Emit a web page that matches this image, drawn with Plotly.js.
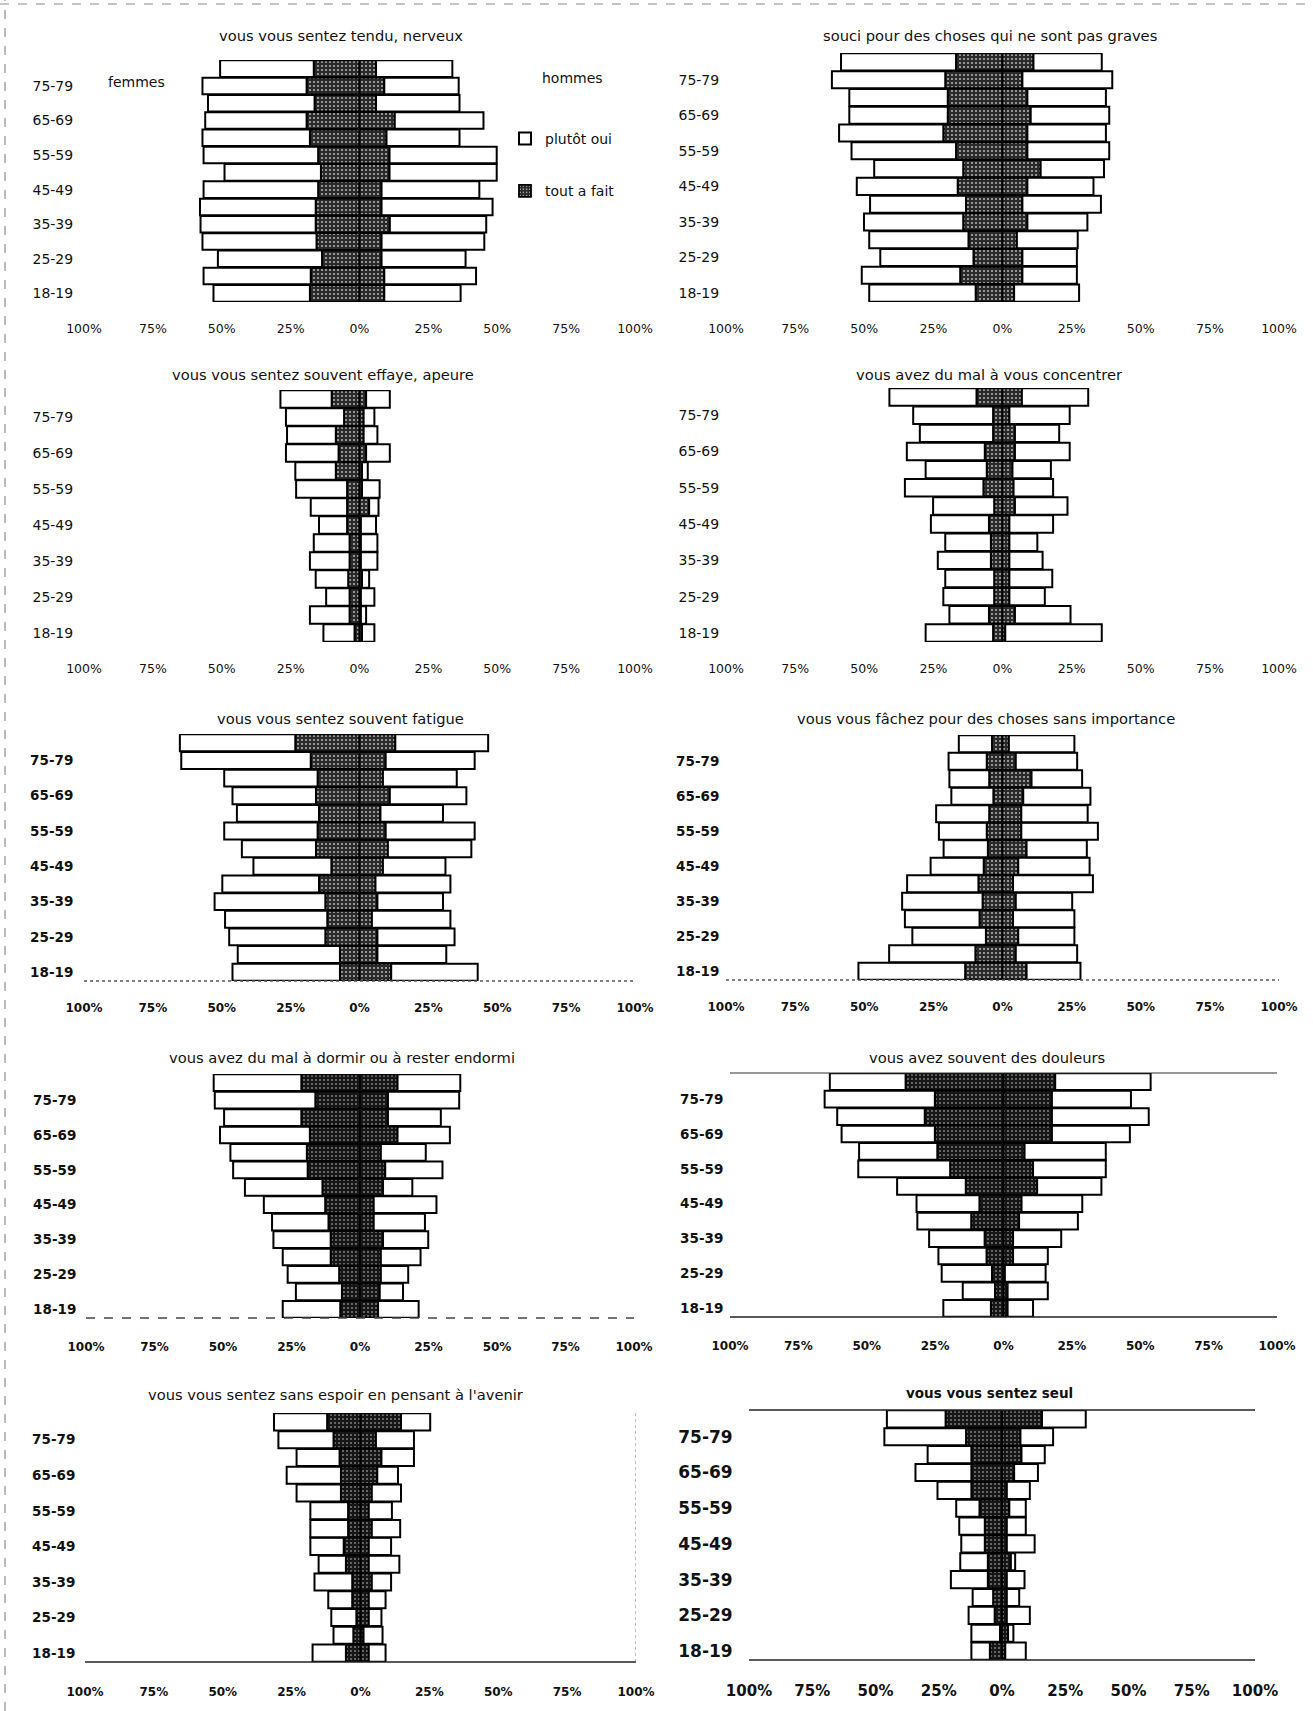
<!DOCTYPE html>
<html>
<head>
<meta charset="utf-8">
<script src="https://cdn.plot.ly/plotly-3.0.1.min.js"></script>
<style>
html,body{margin:0;padding:0;background:#fff;}
#chart{width:1313px;height:1711px;}
</style>
</head>
<body>
<div id="chart"></div>
<script>
// ---------- categories & labels ----------
const ageGroups = ['18-19','20-24','25-29','30-34','35-39','40-44','45-49','50-54','55-59','60-64','65-69','70-74','75-79','80 et +'];
const ageTickLabels = ['18-19','25-29','35-39','45-49','55-59','65-69','75-79'];
const pctTickVals = [-100,-75,-50,-25,0,25,50,75,100];
const pctTickText = ['100%','75%','50%','25%','0%','25%','50%','75%','100%'];
const seriesNames = {plutot:'plutôt oui', tout:'tout a fait'};
const sexLabels = {f:'femmes', h:'hommes'};

// ---------- data (% of respondents, age groups 18-19 -> 80 et +) ----------
// 1. tendu, nerveux
const tendu_femmes_tout   = [18,17.7,13.6,15.6,15.9,15.9,15,14,15,18,19.2,16.3,19.2,16.6];
const tendu_femmes_plutot = [35,38.9,37.8,41.4,41.8,42,41.6,35,41.6,39,36.8,38.7,37.8,34];
const tendu_hommes_tout   = [9,9,8,8,11,8,8,10.9,10.9,9.8,12.8,6,9,6];
const tendu_hommes_plutot = [27.7,33.3,30.5,37.3,35,40.3,35.5,38.9,38.9,26.5,32.2,30.3,27,27.7];
// 2. souci pour des choses qui ne sont pas graves
const souci_femmes_tout   = [9.7,15.3,10.5,12.3,14.2,13.2,16.2,14.2,16.8,21.4,19.8,19.8,20.7,16.8];
const souci_femmes_plutot = [38.5,35.6,33.7,35.9,35.9,34.7,36.5,32.2,37.8,37.7,35.6,35.6,41,41.6];
const souci_hommes_tout   = [4.2,7.2,7.2,5.2,9,7.2,9,13.8,9,9,10.2,9,7.2,11.2];
const souci_hommes_plutot = [23.5,19.7,19.7,22,21.7,28.4,23.9,22.9,29.6,28.4,28.4,28.4,32.5,24.7];
// 3. effrayé, apeuré
const effraye_femmes_tout   = [1.8,3.6,3.6,4.1,3.6,3.6,4.5,4.5,4.5,8.6,7.6,8.6,5.6,10.1];
const effraye_femmes_plutot = [11.3,14.4,8.5,11.8,14.4,13,10.2,13.2,18.5,14.7,19.1,17.7,21.1,18.6];
const effraye_hommes_tout   = [0.9,0.5,0.5,0.9,0.5,0.5,0.5,3.5,0.9,0.9,2.4,1.5,1.5,2.4];
const effraye_hommes_plutot = [4.5,1.9,4.9,2.6,6,6,5.5,3.4,6.4,2.1,8.6,5,3.9,8.6];
// 4. mal à vous concentrer
const concentrer_femmes_tout   = [3.4,4.9,3,3,4.2,4.2,4.9,3,6.9,5.7,6.4,3.4,3.4,9.4];
const concentrer_femmes_plutot = [24.4,14.3,18.4,17.7,19.2,16.5,21,22.1,28.4,22.1,28.2,26.5,28.9,31.5];
const concentrer_hommes_tout   = [1,4.5,2.5,2.5,2.5,2.5,2.5,4.5,4,3.6,4.5,4.5,2.5,7];
const concentrer_hommes_plutot = [34.9,20.1,12.8,15.5,12,10.1,15.8,19,14.3,13.9,19.8,16,21.8,24];
// 5. souvent fatigué
const fatigue_femmes_tout   = [7.1,7.1,12.4,11.7,12.4,14.7,10.2,15.8,15.2,14.7,15.8,15.2,17.7,23.3];
const fatigue_femmes_plutot = [39,37.1,34.9,37.1,40.2,35.1,28.3,26.9,33.9,29.8,30.3,33.9,47,41.9];
const fatigue_hommes_tout   = [11.5,6.5,6.5,4.5,6.5,5.8,8.5,10.3,9.5,7.6,11,8.5,9.5,13];
const fatigue_hommes_plutot = [31.4,25,28,28.5,23.8,27.2,22.7,30.3,32.3,22.7,27.8,26.8,32.3,33.7];
// 6. fâchez pour des choses sans importance
const fachez_femmes_tout   = [13.5,9.8,6,8.3,7.2,8.7,6.8,5.3,5.7,4.8,3.3,4.8,5.7,3.8];
const fachez_femmes_plutot = [38.6,31.2,26.6,27,29.1,25.8,19.2,16,17.3,19.2,15.2,14.4,13.8,12];
const fachez_hommes_tout   = [8.7,4.8,5.7,3.8,4.8,3.8,5.7,8.7,6.8,6.8,7.5,10.5,4.8,2.3];
const fachez_hommes_plutot = [19.5,22.2,20.3,22.2,20.4,28.9,25.8,21.8,27.7,24,24.3,18.3,22.2,23.7];
// 7. mal à dormir
const dormir_femmes_tout   = [7.2,6.6,7.6,10.7,10.7,11.5,12.7,13.7,19.1,19.4,18.3,21.4,16.3,21.4];
const dormir_femmes_plutot = [21,16.8,18.8,17.5,20.9,20.6,22.4,28.3,27.2,27.9,32.8,28.2,36.7,32];
const dormir_hommes_tout   = [6.6,7.2,7.6,7.6,8.4,5,5,8.4,9.2,7.6,13.7,10.2,10.2,13.7];
const dormir_hommes_plutot = [14.8,8.5,10,14.5,16.5,18.7,22.9,10.7,20.9,16.4,19.1,19.3,26,22.9];
// 8. souvent des douleurs
const douleurs_femmes_tout   = [4.6,3.1,4.2,6.2,6.9,11.8,8.8,13.8,19.5,24.2,25.1,28.8,25.1,35.8];
const douleurs_femmes_plutot = [17.4,11.8,18.4,17.6,20.3,19.7,23,25.1,33.6,28.6,34.1,32,40.3,27.7];
const douleurs_hommes_tout   = [1.5,1.5,0.5,3.5,3.5,5.7,6.6,12.3,10.8,7.7,17.7,17.7,17.7,18.9];
const douleurs_hommes_plutot = [9.3,14.7,14.9,12.7,17.6,21.5,22.2,23.5,26.6,29.7,28.5,35.4,28.9,34.9];
// 9. sans espoir
const espoir_femmes_tout   = [5.3,2.6,1.5,3,3,5.3,6.1,4.5,4.5,7.1,7.1,7.6,9.8,12.1];
const espoir_femmes_plutot = [12.1,7.2,9.1,8.7,13.7,9.9,12.1,13.7,13.7,16.1,19.7,15.6,20,19.3];
const espoir_hommes_tout   = [3,1.1,3,3,4.1,3,3,4.1,3,4.1,6.1,7.6,5.6,14.7];
const espoir_hommes_plutot = [6.1,6.9,4.6,6.1,7,11.1,8.1,10.3,8.4,10.6,7.5,11.8,13.8,10.6];
// 10. seul
const seul_femmes_tout   = [4.8,0.8,2.9,3.5,5.6,5.6,6.8,6.8,8.9,12.1,12.1,12.1,14.2,22.3];
const seul_femmes_plutot = [7.3,11.3,10.3,8.1,14.6,10.9,9.3,10.1,9.2,13.4,22.1,17.3,32.3,23.2];
const seul_hommes_tout   = [1.3,2.4,1.9,1.9,1.9,3.5,1.9,1.9,2.9,1.9,4.8,7.7,7.3,15.8];
const seul_hommes_plutot = [8.1,2.1,9.1,4.9,7,1.7,11,7.5,6.5,9.1,9.4,9.2,12.9,17.3];

const panelTitles = [
  'vous vous sentez tendu, nerveux',
  'souci pour des choses qui ne sont pas graves',
  'vous vous sentez souvent effaye, apeure',
  'vous avez du mal à vous concentrer',
  'vous vous sentez souvent fatigue',
  'vous vous fâchez pour des choses sans importance',
  'vous avez du mal à dormir ou à rester endormi',
  'vous avez souvent des douleurs',
  'vous vous sentez sans espoir en pensant à l\'avenir',
  'vous vous sentez seul'
];

const panelData = [
  [tendu_femmes_tout, tendu_femmes_plutot, tendu_hommes_tout, tendu_hommes_plutot],
  [souci_femmes_tout, souci_femmes_plutot, souci_hommes_tout, souci_hommes_plutot],
  [effraye_femmes_tout, effraye_femmes_plutot, effraye_hommes_tout, effraye_hommes_plutot],
  [concentrer_femmes_tout, concentrer_femmes_plutot, concentrer_hommes_tout, concentrer_hommes_plutot],
  [fatigue_femmes_tout, fatigue_femmes_plutot, fatigue_hommes_tout, fatigue_hommes_plutot],
  [fachez_femmes_tout, fachez_femmes_plutot, fachez_hommes_tout, fachez_hommes_plutot],
  [dormir_femmes_tout, dormir_femmes_plutot, dormir_hommes_tout, dormir_hommes_plutot],
  [douleurs_femmes_tout, douleurs_femmes_plutot, douleurs_hommes_tout, douleurs_hommes_plutot],
  [espoir_femmes_tout, espoir_femmes_plutot, espoir_hommes_tout, espoir_hommes_plutot],
  [seul_femmes_tout, seul_femmes_plutot, seul_hommes_tout, seul_hommes_plutot]
];

// ---------- layout geometry (pixels) ----------
const W = 1313, H = 1711;
const panelBox = [ // [x0, x1, y0(top), y1(bottom)]
  [84,635,60,302],[726,1279,53,302],
  [84,635,390,642],[726,1279,388,642],
  [84,635,734,981],[726,1279,735,980],
  [86,634,1074,1318],[730,1277,1073,1317],
  [85,636,1413,1662],[749,1255,1410,1660]
];
const titlePos = [[341,36],[990,36],[323,375],[989,375],[340,718],[986,718],[342,1057],[987,1057],[336,1394],[989,1393]];
const xTickLen = [15,15,15,15,16,16,18,18,19,17];
const yTickLen = [7,3,7,3,7,3,6,3,6,12];
const xTickSize = [12.5,12.5,12.5,12.5,12,12,12,12,12,15];
const yTickSize = [14,14,14,14,13.5,13.5,13.5,13.5,13.5,17];
const tickBold = [false,false,false,false,true,true,true,true,true,true];

function darkMarkerFor(row) {
  const deep = row >= 3;
  const bg = deep ? '#161616' : '#2a2a2a';
  return {
    color:bg,
    line:{color:'#000',width:1.8},
    pattern:{shape:'.', bgcolor:bg, fgcolor: deep ? '#8a8a8a' : '#b0b0b0', size:4, solidity: deep ? 0.16 : 0.22, fillmode:'replace'}
  };
}
const lightMarker = {color:'#ffffff', line:{color:'#000',width:2}};

const traces = [];
const layout = {
  width:W, height:H,
  margin:{l:0,r:0,t:0,b:0},
  paper_bgcolor:'#fff', plot_bgcolor:'rgba(0,0,0,0)',
  barmode:'relative', bargap:0.04,
  font:{family:'DejaVu Sans', color:'#111'},
  showlegend:true,
  legend:{
    x:505/W, y:1-123/H, xanchor:'left', yanchor:'top',
    bgcolor:'rgba(0,0,0,0)', borderwidth:0,
    font:{family:'DejaVu Sans', size:14, color:'#111'},
    tracegroupgap:31, itemwidth:30, traceorder:'grouped'
  },
  annotations:[], shapes:[]
};

panelData.forEach((d, i) => {
  const n = i + 1;
  const sfx = n === 1 ? '' : String(n);
  const xa = 'x' + sfx, ya = 'y' + sfx;
  const [fTout, fPlutot, hTout, hPlutot] = d;
  const dm = darkMarkerFor(Math.floor(i / 2));
  traces.push({type:'bar', orientation:'h', y:ageGroups, x:fTout.map(v => -v), customdata:fTout,
    xaxis:xa, yaxis:ya, name:seriesNames.tout, marker:dm, showlegend:false,
    hovertemplate:sexLabels.f+' %{y}: %{customdata}%<extra>'+seriesNames.tout+'</extra>'});
  traces.push({type:'bar', orientation:'h', y:ageGroups, x:fPlutot.map(v => -v), customdata:fPlutot,
    xaxis:xa, yaxis:ya, name:seriesNames.plutot, marker:lightMarker, showlegend:false,
    hovertemplate:sexLabels.f+' %{y}: %{customdata}%<extra>'+seriesNames.plutot+'</extra>'});
  traces.push({type:'bar', orientation:'h', y:ageGroups, x:hTout,
    xaxis:xa, yaxis:ya, name:seriesNames.tout, marker:dm, showlegend:n===1,
    legendgroup:'tout', legendrank:2,
    hovertemplate:sexLabels.h+' %{y}: %{x}%<extra>'+seriesNames.tout+'</extra>'});
  traces.push({type:'bar', orientation:'h', y:ageGroups, x:hPlutot,
    xaxis:xa, yaxis:ya, name:seriesNames.plutot, marker:lightMarker, showlegend:n===1,
    legendgroup:'plutot', legendrank:1,
    hovertemplate:sexLabels.h+' %{y}: %{x}%<extra>'+seriesNames.plutot+'</extra>'});

  const [x0,x1,y0,y1] = panelBox[i];
  const w = tickBold[i] ? 'bold' : 'normal';
  layout['xaxis'+sfx] = {
    domain:[x0/W, x1/W], anchor:ya, range:[-100,100], fixedrange:true,
    tickmode:'array', tickvals:pctTickVals, ticktext:pctTickText,
    ticks:'outside', ticklen:xTickLen[i], tickcolor:'rgba(0,0,0,0)',
    showgrid:false, zeroline:false, showline:false,
    tickfont:{family:'DejaVu Sans', size:xTickSize[i], color:'#111', weight:w}
  };
  layout['yaxis'+sfx] = {
    domain:[1-y1/H, 1-y0/H], anchor:xa, type:'category',
    categoryorder:'array', categoryarray:ageGroups, range:[-0.5,13.5], fixedrange:true,
    tickmode:'array', tickvals:ageTickLabels, ticktext:ageTickLabels,
    ticks:'outside', ticklen:yTickLen[i], tickcolor:'rgba(0,0,0,0)',
    showgrid:false, zeroline:false, showline:false,
    tickfont:{family:'DejaVu Sans', size:yTickSize[i], color:'#111', weight:w}
  };
  layout.annotations.push({
    xref:'paper', yref:'paper', x:titlePos[i][0]/W, y:1-titlePos[i][1]/H,
    xanchor:'center', yanchor:'middle', showarrow:false, text:panelTitles[i],
    font:{family:'DejaVu Sans', size: i===9 ? 13.5 : 14.7, color:'#111', weight: i===9 ? 'bold' : 'normal'}
  });
});

// sex labels (panel 1)
layout.annotations.push({xref:'paper', yref:'paper', x:136/W, y:1-82/H, xanchor:'center', yanchor:'middle', showarrow:false,
  text:sexLabels.f, font:{family:'DejaVu Sans', size:14, color:'#111'}});
layout.annotations.push({xref:'paper', yref:'paper', x:572/W, y:1-78/H, xanchor:'center', yanchor:'middle', showarrow:false,
  text:sexLabels.h, font:{family:'DejaVu Sans', size:14, color:'#111'}});

// decorative scan frame / axis lines
const sh = layout.shapes;
sh.push({type:'line', xref:'paper', yref:'paper', x0:5/W, x1:5/W, y0:0, y1:1, line:{color:'#777', width:1, dash:'dash'}});
sh.push({type:'line', xref:'paper', yref:'paper', x0:0, x1:1, y0:1-4/H, y1:1-4/H, line:{color:'#888', width:1, dash:'dash'}});
function hline(n, yv, color, dash, width) {
  const s = n === 1 ? '' : String(n);
  sh.push({type:'line', xref:'x'+s, yref:'y'+s+' domain', x0:-100, x1:100, y0:yv, y1:yv,
    line:{color:color, width:width, dash:dash}});
}
hline(5, 0, '#555', 'dot', 1.3);
hline(6, 0, '#555', 'dot', 1.3);
hline(7, 0, '#444', 'dash', 1.3);
hline(8, 0, '#222', 'solid', 1.3);
hline(8, 1, '#333', 'solid', 1.1);
hline(9, 0, '#222', 'solid', 1.3);
hline(10, 0, '#222', 'solid', 1.3);
hline(10, 1, '#222', 'solid', 1.3);
sh.push({type:'line', xref:'x9', yref:'y9 domain', x0:100, x1:100, y0:0, y1:1, line:{color:'#777', width:1, dash:'dot'}});

Plotly.newPlot('chart', traces, layout, {staticPlot:true, displayModeBar:false});
</script>
</body>
</html>
